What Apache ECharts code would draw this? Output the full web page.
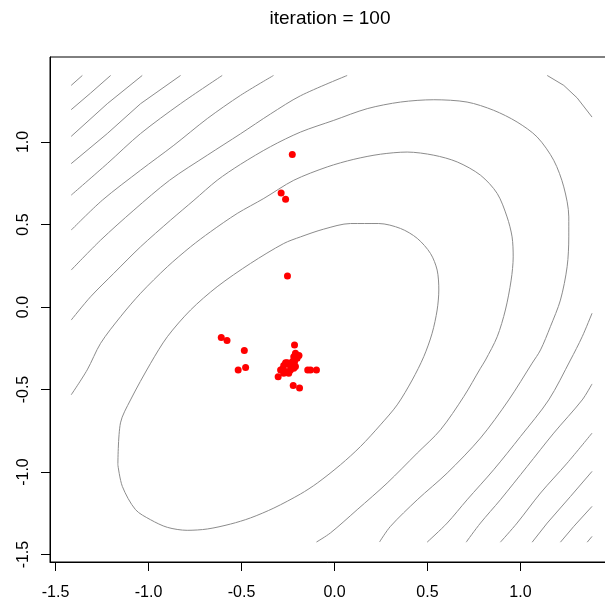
<!DOCTYPE html>
<html>
<head>
<meta charset="utf-8">
<script src="https://cdn.jsdelivr.net/npm/echarts@6/dist/echarts.min.js"></script>
<style>
html,body{margin:0;padding:0;background:#fff;}
#chart{width:605px;height:603px;}
</style>
</head>
<body>
<div id="chart"></div>
<script>
// ---- data ----
var titleText = "iteration = 100";
var tickValues = [-1.5, -1.0, -0.5, 0.0, 0.5, 1.0];

// contour lines (x, y pairs), innermost first
var level1 = [[-1.165,-0.956],[-1.141,-1.087],[-1.070,-1.228],[-0.989,-1.289],[-0.899,-1.335],[-0.792,-1.353],[-0.684,-1.345],[-0.559,-1.315],[-0.452,-1.278],[-0.326,-1.218],[-0.183,-1.133],[-0.093,-1.067],[0.032,-0.956],[0.140,-0.845],[0.247,-0.714],[0.337,-0.593],[0.418,-0.442],[0.480,-0.301],[0.525,-0.159],[0.552,-0.018],[0.561,0.103],[0.552,0.224],[0.516,0.325],[0.445,0.416],[0.355,0.476],[0.238,0.506],[0.086,0.506],[-0.058,0.472],[-0.183,0.425],[-0.273,0.385],[-0.452,0.264],[-0.631,0.123],[-0.774,-0.018],[-0.899,-0.180],[-0.989,-0.341],[-1.097,-0.563],[-1.151,-0.702],[-1.165,-0.956]];
var level2 = [[-1.416,-0.532],[-1.330,-0.381],[-1.258,-0.220],[-1.151,-0.059],[-1.043,0.083],[-0.899,0.244],[-0.774,0.365],[-0.667,0.456],[-0.523,0.567],[-0.380,0.658],[-0.219,0.768],[-0.039,0.849],[0.104,0.895],[0.247,0.926],[0.391,0.939],[0.534,0.920],[0.660,0.879],[0.785,0.799],[0.875,0.688],[0.928,0.546],[0.955,0.425],[0.961,0.304],[0.950,0.163],[0.919,-0.018],[0.875,-0.180],[0.812,-0.321],[0.785,-0.371],[0.695,-0.543],[0.570,-0.744],[0.445,-0.885],[0.283,-1.067],[0.122,-1.228],[-0.022,-1.369],[-0.097,-1.424]];
var level3 = [[-1.416,-0.079],[-1.312,0.062],[-1.187,0.204],[-1.043,0.365],[-0.882,0.526],[-0.756,0.647],[-0.631,0.768],[-0.505,0.865],[-0.344,0.972],[-0.183,1.060],[-0.004,1.131],[0.176,1.202],[0.355,1.242],[0.534,1.256],[0.713,1.242],[0.856,1.192],[0.982,1.121],[1.090,1.030],[1.179,0.889],[1.233,0.728],[1.260,0.546],[1.260,0.425],[1.251,0.244],[1.215,0.042],[1.161,-0.119],[1.108,-0.260],[1.063,-0.340],[0.937,-0.563],[0.785,-0.794],[0.606,-1.006],[0.445,-1.168],[0.301,-1.329],[0.242,-1.424]];
var level4a = [[-1.416,0.224],[-1.258,0.405],[-1.079,0.587],[-0.887,0.768],[-0.684,0.920],[-0.505,1.050],[-0.344,1.170],[-0.183,1.280],[0.068,1.403]];
var level4b = [[1.144,1.403],[1.233,1.343],[1.305,1.267],[1.385,1.151]];
var level4c = [[1.385,-0.038],[1.332,-0.180],[1.269,-0.321],[1.152,-0.563],[1.000,-0.785],[0.856,-0.986],[0.713,-1.168],[0.606,-1.309],[0.498,-1.425]];
var level5a = [[-1.416,0.466],[-1.249,0.647],[-1.043,0.829],[-0.864,0.980],[-0.684,1.142],[-0.505,1.283],[-0.328,1.403]];
var level5b = [[1.385,-0.466],[1.332,-0.563],[1.179,-0.764],[1.036,-0.966],[0.892,-1.168],[0.785,-1.309],[0.708,-1.425]];
var level6a = [[-1.416,0.678],[-1.222,0.869],[-1.043,1.051],[-0.828,1.232],[-0.604,1.403]];
var level6b = [[1.385,-0.764],[1.251,-0.946],[1.108,-1.127],[0.982,-1.309],[0.892,-1.425]];
var level7a = [[-1.416,0.869],[-1.222,1.051],[-1.043,1.232],[-0.828,1.403]];
var level7b = [[1.385,-0.996],[1.269,-1.148],[1.144,-1.309],[1.063,-1.425]];
var level8a = [[-1.416,1.034],[-1.222,1.232],[-1.034,1.403]];
var level8b = [[1.385,-1.208],[1.287,-1.329],[1.215,-1.425]];
var level9a = [[-1.416,1.196],[-1.312,1.296],[-1.204,1.403]];
var level9b = [[1.385,-1.390],[1.359,-1.425]];
var level10a = [[-1.416,1.343],[-1.356,1.403]];

// particle positions
var particlesX = [-0.227,-0.287,-0.263,-0.253,-0.609,-0.578,-0.485,-0.518,-0.478,-0.215,-0.210,-0.191,-0.201,-0.215,-0.227,-0.254,-0.273,-0.281,-0.263,-0.237,-0.219,-0.246,-0.273,-0.303,-0.144,-0.129,-0.097,-0.222,-0.188,-0.240,-0.227,-0.219,-0.210,-0.263,-0.290];
var particlesY = [0.924,0.691,0.653,0.188,-0.185,-0.203,-0.264,-0.381,-0.367,-0.230,-0.280,-0.293,-0.310,-0.331,-0.351,-0.337,-0.355,-0.377,-0.391,-0.381,-0.371,-0.401,-0.401,-0.422,-0.381,-0.381,-0.381,-0.476,-0.490,-0.351,-0.331,-0.301,-0.361,-0.337,-0.381];

// ---- chart ----
var contours = [level1, level2, level3, level4a, level4b, level4c, level5a, level5b,
  level6a, level6b, level7a, level7b, level8a, level8b, level9a, level9b, level10a];
var points = particlesX.map(function (x, i) { return [x, particlesY[i]]; });

var series = contours.map(function (c) {
  return {
    type: 'line', data: c, showSymbol: false, symbol: 'none', silent: true,
    smooth: c.length > 4 ? 0.3 : false,
    lineStyle: { color: '#8c8c8c', width: 1 }, z: 2
  };
});
series.push({
  type: 'scatter', data: points, symbol: 'circle', symbolSize: 7,
  itemStyle: { color: '#ff0000', opacity: 1 }, silent: true, z: 3
});

var font = 'Liberation Sans, Arial, sans-serif';
var chart = echarts.init(document.getElementById('chart'), null, { renderer: 'canvas' });
chart.setOption({
  animation: false,
  backgroundColor: '#ffffff',
  grid: { left: 50, top: 57, width: 569, height: 505, show: true,
          outerBoundsMode: 'none', containLabel: false,
          borderColor: '#000', borderWidth: 1, backgroundColor: 'transparent' },
  xAxis: {
    type: 'value', min: -1.53, max: 1.53,
    splitLine: { show: false },
    axisLine: { show: true, onZero: false, lineStyle: { color: '#000', width: 1 } },
    axisTick: { show: true, customValues: tickValues, length: 9, lineStyle: { color: '#000', width: 1 } },
    axisLabel: { customValues: tickValues, fontSize: 16, fontFamily: font, color: '#000', margin: 23,
      formatter: function (v) { return v.toFixed(1); } }
  },
  yAxis: {
    type: 'value', min: -1.545, max: 1.515,
    splitLine: { show: false },
    axisLine: { show: true, onZero: false, lineStyle: { color: '#000', width: 1 } },
    axisTick: { show: true, customValues: tickValues, length: 9, lineStyle: { color: '#000', width: 1 } },
    axisLabel: { customValues: tickValues, fontSize: 16, fontFamily: font, color: '#000', margin: 18, rotate: 90,
      formatter: function (v) { return v.toFixed(1); } }
  },
  graphic: [{
    type: 'text', x: 330, y: 19,
    style: { text: titleText, x: 0, y: 0, align: 'center', verticalAlign: 'middle',
      font: '19px ' + font, fill: '#000' }
  }],
  series: series
});
</script>
</body>
</html>
